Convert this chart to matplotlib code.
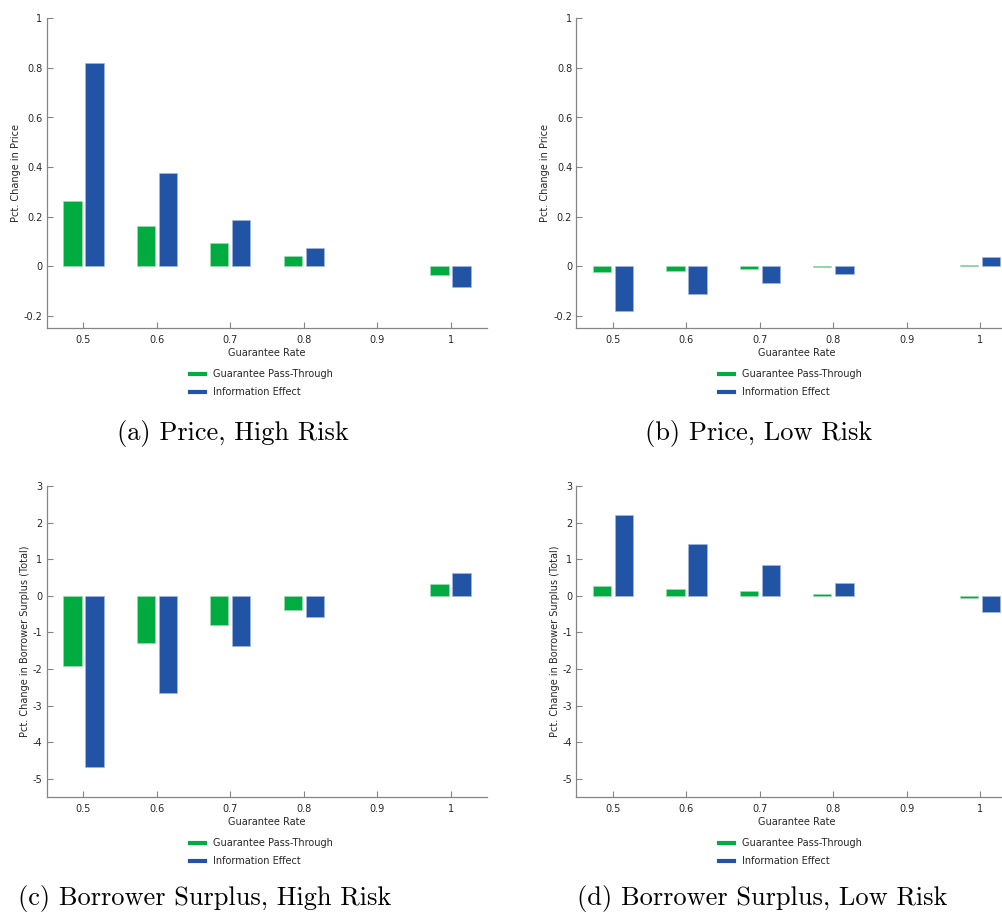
import matplotlib.pyplot as plt
import numpy as np
from matplotlib.lines import Line2D

# guarantee rates and decomposition of the effects
rates = [0.5, 0.6, 0.7, 0.8, 1.0]

price_high_pass = [0.265, 0.161, 0.093, 0.042, -0.035]
price_high_info = [0.821, 0.377, 0.187, 0.075, -0.082]

price_low_pass = [-0.024, -0.020, -0.012, -0.004, 0.007]
price_low_info = [-0.180, -0.113, -0.066, -0.030, 0.038]

bs_high_pass = [-1.91, -1.28, -0.79, -0.38, 0.32]
bs_high_info = [-4.67, -2.65, -1.38, -0.57, 0.62]

bs_low_pass = [0.26, 0.19, 0.13, 0.06, -0.06]
bs_low_info = [2.22, 1.41, 0.83, 0.36, -0.43]

green = '#00ab3f'
blue = '#2154a5'
txt = '#262626'
axcol = '#858585'
fs = 7

W, H = 1003, 913
fig = plt.figure(figsize=(W / 100, H / 100), dpi=100)


def panel(left, top, bottom, width, pass_vals, info_vals, ylim, yticks, ylabel):
    ax = fig.add_axes([left / W, 1 - bottom / H, width / W, (bottom - top) / H])
    x = np.array(rates)
    ax.bar(x - 0.015, pass_vals, width=0.025, color=green, edgecolor='#9fdcb2', linewidth=0.4)
    ax.bar(x + 0.015, info_vals, width=0.025, color=blue, edgecolor='#a3b9e0', linewidth=0.4)
    ax.set_xlim(0.45, 1.05)
    ax.set_ylim(*ylim)
    ax.set_yticks(yticks)
    ax.set_yticklabels(['%g' % t for t in yticks])
    ax.set_xticks([0.5, 0.6, 0.7, 0.8, 0.9, 1.0])
    ax.set_xticklabels(['0.5', '0.6', '0.7', '0.8', '0.9', '1'])
    for s in ['top', 'right']:
        ax.spines[s].set_visible(False)
    for s in ['left', 'bottom']:
        ax.spines[s].set_color(axcol)
        ax.spines[s].set_linewidth(0.9)
    ax.tick_params(direction='in', length=4, width=0.8, color=axcol, labelsize=fs,
                   labelcolor=txt, pad=3)
    ax.tick_params(axis='x', pad=5)
    ax.set_xlabel('Guarantee Rate', fontsize=fs, color=txt, labelpad=2)
    ax.set_ylabel(ylabel, fontsize=fs, color=txt, labelpad=2)
    return ax


def legend(x, y):
    handles = [Line2D([], [], color=green, lw=3), Line2D([], [], color=blue, lw=3)]
    fig.legend(handles, ['Guarantee Pass-Through', 'Information Effect'],
               loc='upper left', bbox_to_anchor=(x / W, 1 - y / H), frameon=False,
               fontsize=fs, labelcolor=txt, handlelength=1.55, handletextpad=0.8,
               labelspacing=0.85, borderpad=0, borderaxespad=0)


p_ticks = [-0.2, 0, 0.2, 0.4, 0.6, 0.8, 1]
b_ticks = [-5, -4, -3, -2, -1, 0, 1, 2, 3]

panel(46.7, 18.3, 328.3, 440.6, price_high_pass, price_high_info, (-0.25, 1), p_ticks,
      'Pct. Change in Price')
panel(576.3, 18.3, 328.3, 440.6, price_low_pass, price_low_info, (-0.25, 1), p_ticks,
      'Pct. Change in Price')
panel(46.7, 486, 797.3, 440.6, bs_high_pass, bs_high_info, (-5.5, 3), b_ticks,
      'Pct. Change in Borrower Surplus (Total)')
panel(576.3, 486, 797.3, 440.6, bs_low_pass, bs_low_info, (-5.5, 3), b_ticks,
      'Pct. Change in Borrower Surplus (Total)')

legend(190, 369)
legend(719, 369)
legend(190, 838)
legend(719, 838)

cap = dict(fontsize=19, family='cmr10', ha='center', va='center', color='black')
fig.text(233 / W, 1 - 433 / H, '(a) Price, High Risk', **cap)
fig.text(759 / W, 1 - 433 / H, '(b) Price, Low Risk', **cap)
fig.text(205 / W, 1 - 898 / H, '(c) Borrower Surplus, High Risk', **cap)
fig.text(762 / W, 1 - 898 / H, '(d) Borrower Surplus, Low Risk', **cap)

fig.savefig('out.png', dpi=100)
